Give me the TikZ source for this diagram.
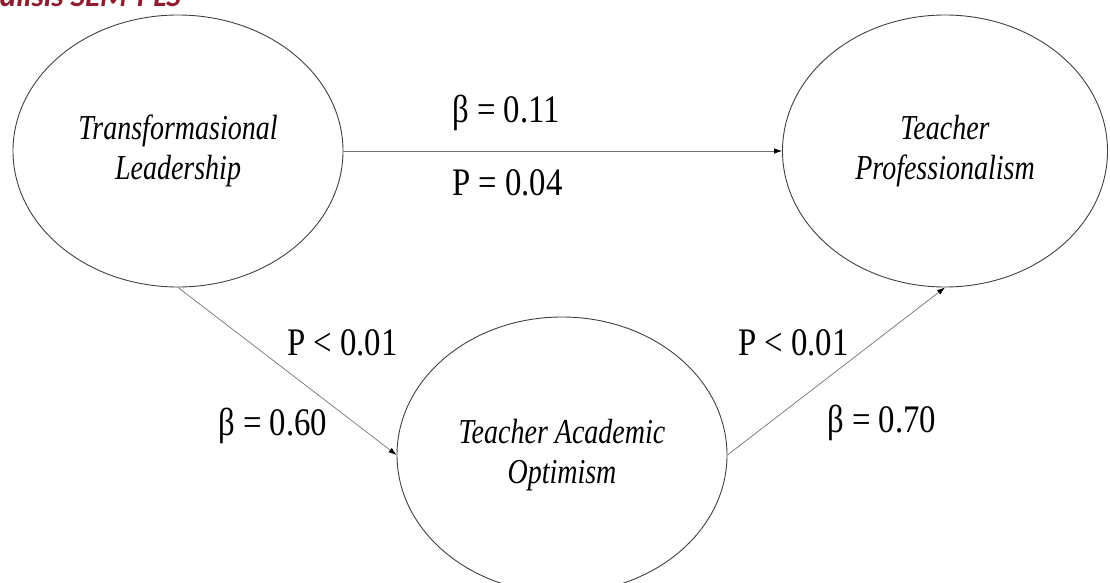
\documentclass[tikz,border=0pt]{standalone}
\usepackage{fontspec}
\setmainfont{Liberation Serif}
\newfontfamily\titlefont{Carlito}
\usetikzlibrary{arrows.meta,shapes.geometric}
\definecolor{titlered}{HTML}{8E1B2E}
\newcommand{\narrow}[1]{\scalebox{0.84}[1]{#1}}
\newcommand{\twolines}[2]{\raisebox{-4pt}{\scalebox{0.8}[1]{\begin{tabular}{@{}c@{}}#1\\#2\end{tabular}}}}

\begin{document}
\begin{tikzpicture}[x=1pt, y=-1pt,
  latent/.style={draw=black!75, line width=0.9pt, ellipse, inner sep=0pt,
    minimum width=330pt, minimum height=272pt,
    font=\fontsize{35}{40}\selectfont\itshape},
  path/.style={draw=black!55, line width=0.7pt, -{Latex[black,length=8pt,width=5.5pt]}},
  coef/.style={font=\fontsize{39}{42}\selectfont, inner sep=0pt, anchor=base west}]
\useasboundingbox (0,0) rectangle (1110,583);
\clip (0,0) rectangle (1110,583);

% Title (cut off at the top)
\node[font=\titlefont\fontsize{31}{33}\selectfont\bfseries\itshape, text=titlered,
  anchor=base east, inner sep=0pt] (title) at (181,7) {Analisis SEM-PLS};

% Latent variables
\node[latent] (tl) at (178,151) {\twolines{Transformasional}{Leadership}};
\node[latent, minimum width=325pt] (tp) at (945,151) {\twolines{Teacher}{Professionalism}};
\node[latent, minimum height=276pt] (tao) at (562,455) {\twolines{Teacher Academic}{Optimism}};

% Paths
\draw[path] (tl.east) -- (tp.west);
\draw[path] (tl.south) -- (tao.west);
\draw[path] (tao.east) -- (tp.south);

% Coefficients
\node[coef] (b1) at (452,122) {\narrow{β = 0.11}};
\node[coef] (p1) at (452,195) {\narrow{P = 0.04}};
\node[coef] (p2) at (287,355) {\narrow{P < 0.01}};
\node[coef] (b2) at (218,435) {\narrow{β = 0.60}};
\node[coef] (p3) at (738,355) {\narrow{P < 0.01}};
\node[coef] (b3) at (827,432) {\narrow{β = 0.70}};
\end{tikzpicture}
\end{document}
